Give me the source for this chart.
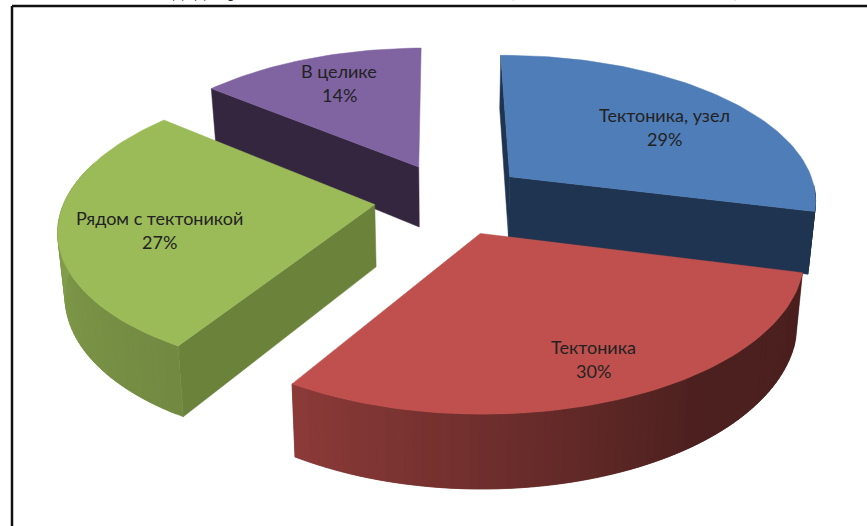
import numpy as np, plotly.graph_objects as go

labels = ["Тектоника, узел", "Тектоника", "Рядом с тектоникой", "В целике"]
shares = [29, 30, 27, 14]
colors = ["#4f7db8", "#bf504d", "#9bbb59", "#8064a2"]
face_colors = ["#1f3450", "#6e2c2a", "#6b823b", "#35263f"]
bulge = [0.0, -0.012, 0.018, 0.0]
label_px = [(664, 115), (593, 347), (159, 218), (339, 71)]
clipped_bits = [("д", 178), ("д", 200), ("р", 233), ("(", 510), (")", 737)]

# 3-D view of the pie: plane -> page homography, explosion, first-slice angle
HOM = [291.1, 110.74, 450.71, 16.447, -114.79, 198.65, -0.026215, 0.14334]
EXPLODE, ROT = 0.25, -9.0
SHADE_T = [90, 135, 165, 203, 240, 270, 320]
SHADE_F = [.39, .40, .55, .73, .80, .88, .88]


def proj(u, v):
    p = HOM
    w = p[6] * u + p[7] * v + 1
    return (p[0] * u + p[1] * v + p[2]) / w, (p[3] * u + p[4] * v + p[5]) / w


def drop(x, y):
    x, y = np.asarray(x, float), np.asarray(y, float)
    return 447 + (x - 447) * 0.981, y + 50 + 0.06 * y


def poly(fig, x, y, color):
    fig.add_trace(go.Scatter(x=list(x) + [x[0]], y=list(y) + [y[0]], mode="lines", fill="toself",
                             fillcolor=color, line=dict(color=color, width=0.5),
                             hoverinfo="skip", showlegend=False))


def shade(hexc, f):
    r, g, b = int(hexc[1:3], 16), int(hexc[3:5], 16), int(hexc[5:7], 16)
    return f"rgb({r*f:.0f},{g*f:.0f},{b*f:.0f})"


fig = go.Figure()
edges = np.cumsum([0] + shares) * 3.6
order = [3, 0, 2, 1]
for i in order:
    t0, t1 = edges[i] + ROT, edges[i + 1] + ROT
    m = np.radians((t0 + t1) / 2)
    ou, ov = EXPLODE * np.sin(m), EXPLODE * np.cos(m)
    T = np.linspace(t0, t1, int(abs(t1 - t0) / 1.5) + 2)
    R = np.radians(T)
    rad = 1 + bulge[i] * np.sin(np.pi * (T - t0) / (t1 - t0))
    ax, ay = proj(ou + rad * np.sin(R), ov + rad * np.cos(R))
    bx, by = drop(ax, ay)
    cx, cy = proj(ou, ov)
    dx, dy = drop(cx, cy)
    n = len(T) - 1

    def rim(j):
        k = min(j + 2, n)
        f = np.interp(((T[j] + T[j + 1]) / 2) % 360, SHADE_T, SHADE_F)
        poly(fig, [ax[j], ax[k], bx[k], bx[j]], [ay[j], ay[k], by[k], by[j]], shade(colors[i], f))

    front = [j for j in range(n) if np.cos(R[j]) < -0.1]
    back = [j for j in range(n) if -0.1 <= np.cos(R[j]) < 0.1]
    for j in back:
        rim(j)
    # radial faces that look towards the viewer
    if np.sin(np.radians(t0)) < 0:
        poly(fig, [cx, ax[0], bx[0], dx], [cy, ay[0], by[0], dy], face_colors[i])
    if -np.sin(np.radians(t1)) < 0:
        poly(fig, [cx, ax[-1], bx[-1], dx], [cy, ay[-1], by[-1], dy], face_colors[i])
    for j in front:
        rim(j)
    poly(fig, [cx] + list(ax), [cy] + list(ay), colors[i])

fig.update_layout(width=867, height=526, margin=dict(l=0, r=0, t=0, b=0),
                  xaxis=dict(range=[0, 867], visible=False),
                  yaxis=dict(range=[526, 0], visible=False),
                  plot_bgcolor="white", paper_bgcolor="white", showlegend=False)
fig.add_shape(type="line", x0=12, x1=867, y0=6, y1=6, line=dict(color="#111", width=2.5))
fig.add_shape(type="line", x0=12, x1=12, y0=6, y1=526, line=dict(color="#111", width=2.5))
for name, share, (x, y) in zip(labels, shares, label_px):
    fig.add_annotation(x=x, y=y, text=name, showarrow=False, font=dict(family="Lato", size=18, color="#222"))
    fig.add_annotation(x=x, y=y + 24, text=f"{share}%", showarrow=False, font=dict(family="Lato", size=18, color="#222"))
for s, x in clipped_bits:
    fig.add_annotation(x=x, y=3, yanchor="bottom", text=s, showarrow=False,
                       font=dict(family="Liberation Serif", size=21, color="#222"))
fig.write_html("out.html", config={"displayModeBar": False},
               post_script="document.body.style.margin='0';document.body.style.overflow='hidden';")
